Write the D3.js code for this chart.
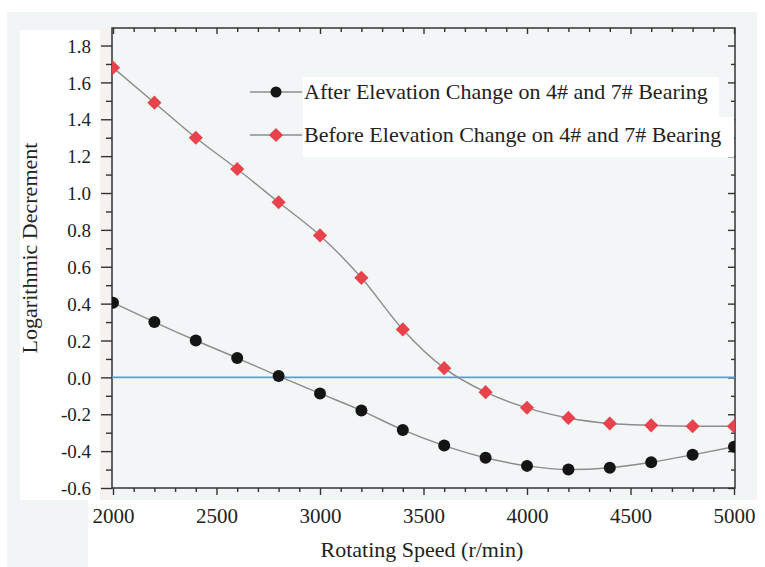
<!DOCTYPE html>
<html>
<head>
<meta charset="utf-8">
<script src="https://cdn.jsdelivr.net/npm/d3@7"></script>
<style>
  html, body { margin: 0; padding: 0; background: #ffffff; }
  svg { display: block; }
  text { font-family: "Liberation Serif", "Times New Roman", serif; fill: #222; }
</style>
</head>
<body>
<svg id="chart" width="765" height="567"></svg>
<script>
// ---- data ----
const speeds = [2000, 2200, 2400, 2600, 2800, 3000, 3200, 3400, 3600, 3800, 4000, 4200, 4400, 4600, 4800, 5000];
const afterValues = [0.405, 0.30, 0.20, 0.105, 0.007, -0.087, -0.18, -0.285, -0.37, -0.436, -0.48, -0.50, -0.49, -0.46, -0.42, -0.376];
const beforeValues = [1.68, 1.49, 1.30, 1.13, 0.95, 0.77, 0.54, 0.26, 0.05, -0.08, -0.165, -0.22, -0.25, -0.26, -0.265, -0.265];
const seriesNames = ["After Elevation Change on 4# and 7# Bearing", "Before Elevation Change on 4# and 7# Bearing"];
const xTickValues = [2000, 2500, 3000, 3500, 4000, 4500, 5000];
const yTickValues = [-0.6, -0.4, -0.2, 0.0, 0.2, 0.4, 0.6, 0.8, 1.0, 1.2, 1.4, 1.6, 1.8];
const xTitle = "Rotating Speed (r/min)";
const yTitle = "Logarithmic Decrement";

// ---- layout ----
const svg = d3.select("#chart");
const plot = { left: 112, right: 735, top: 28, bottom: 488 };
const serif = "'Liberation Serif', 'Times New Roman', serif";

// backgrounds (scanned figure look)
svg.append("rect").attr("x", 7).attr("y", 12).attr("width", 750).attr("height", 488).attr("fill", "#f2f5f5");
svg.append("rect").attr("x", 7).attr("y", 500).attr("width", 81).attr("height", 67).attr("fill", "#f2f5f5");
svg.append("rect").attr("x", 100).attr("y", 28).attr("width", 12).attr("height", 472).attr("fill", "#f6f2f0");
svg.append("rect").attr("x", 20).attr("y", 30).attr("width", 80).attr("height", 470).attr("fill", "#ffffff");
svg.append("rect").attr("x", plot.left).attr("y", plot.top).attr("width", plot.right - plot.left).attr("height", plot.bottom - plot.top).attr("fill", "#f3f6f6");

const x = d3.scaleLinear().domain([2000, 5000]).range([113, 734]);
const y = d3.scaleLinear().domain([-0.6, 1.895]).range([plot.bottom, plot.top]);

const xMinor = d3.range(2000, 5001, 100).filter(v => v % 500 !== 0);
const yMinor = d3.range(-6, 19, 1).map(v => v / 10).filter(v => Math.abs(Math.round(v * 10)) % 2 === 1);

const axisColor = "#333";
function styleAxis(g) {
  g.attr("font-family", serif);
  g.select(".domain").remove();
  g.selectAll("line").attr("stroke", axisColor).attr("stroke-width", 1.4);
}
const yFmt = v => d3.format(".1f")(v).replace("\u2212", "-");

// left axis (major + minor, outward)
const gLeft = svg.append("g").attr("transform", `translate(${plot.left},0)`);
gLeft.call(d3.axisLeft(y).tickValues(yTickValues).tickSize(11).tickFormat(yFmt));
gLeft.call(styleAxis);
gLeft.selectAll("text").attr("x", -21).attr("dy", "0.35em").attr("fill", "#222")
  .style("font-size", "19px").style("font-family", serif);
svg.append("g").attr("transform", `translate(${plot.left},0)`)
  .call(d3.axisLeft(y).tickValues(yMinor).tickSize(6).tickFormat(""))
  .call(styleAxis);

// right axis (inward)
svg.append("g").attr("transform", `translate(${plot.right},0)`)
  .call(d3.axisLeft(y).tickValues(yTickValues).tickSize(7).tickFormat(""))
  .call(styleAxis);
svg.append("g").attr("transform", `translate(${plot.right},0)`)
  .call(d3.axisLeft(y).tickValues(yMinor).tickSize(4).tickFormat(""))
  .call(styleAxis);

// bottom axis (outward)
const gBottom = svg.append("g").attr("transform", `translate(0,${plot.bottom})`);
gBottom.call(d3.axisBottom(x).tickValues(xTickValues).tickSize(7).tickFormat(d3.format("d")));
gBottom.call(styleAxis);
gBottom.selectAll("text").attr("y", 35).attr("dy", 0).attr("fill", "#222")
  .style("font-size", "21px").style("font-family", serif);
svg.append("g").attr("transform", `translate(0,${plot.bottom})`)
  .call(d3.axisBottom(x).tickValues(xMinor).tickSize(4).tickFormat(""))
  .call(styleAxis);

// top axis (inward)
svg.append("g").attr("transform", `translate(0,${plot.top})`)
  .call(d3.axisBottom(x).tickValues(xTickValues).tickSize(6).tickFormat(""))
  .call(styleAxis);
svg.append("g").attr("transform", `translate(0,${plot.top})`)
  .call(d3.axisBottom(x).tickValues(xMinor).tickSize(4).tickFormat(""))
  .call(styleAxis);

// frame
svg.append("rect").attr("x", plot.left).attr("y", plot.top)
  .attr("width", plot.right - plot.left).attr("height", plot.bottom - plot.top)
  .attr("fill", "none").attr("stroke", axisColor).attr("stroke-width", 1.5);

// clip
svg.append("clipPath").attr("id", "clip").append("rect")
  .attr("x", plot.left).attr("y", plot.top).attr("width", plot.right - plot.left).attr("height", plot.bottom - plot.top);
const gPlot = svg.append("g").attr("clip-path", "url(#clip)");

// zero line
gPlot.append("line").attr("x1", plot.left).attr("x2", plot.right)
  .attr("y1", y(0)).attr("y2", y(0)).attr("stroke", "#5f9ad2").attr("stroke-width", 1.6);

const line = d3.line().x(d => x(d[0])).y(d => y(d[1])).curve(d3.curveMonotoneX);
const afterData = speeds.map((s, i) => [s, afterValues[i]]);
const beforeData = speeds.map((s, i) => [s, beforeValues[i]]);

gPlot.append("path").datum(afterData).attr("d", line).attr("fill", "none").attr("stroke", "#8c8c8c").attr("stroke-width", 1.4);
gPlot.append("path").datum(beforeData).attr("d", line).attr("fill", "none").attr("stroke", "#8c8c8c").attr("stroke-width", 1.4);

const redColor = "#e8434c";
const diamond = d3.symbol().type(d3.symbolSquare).size(100);

gPlot.selectAll(".pb").data(beforeData).join("path")
  .attr("d", diamond())
  .attr("transform", d => `translate(${x(d[0])},${y(d[1])}) rotate(45)`)
  .attr("fill", redColor);
gPlot.selectAll(".pa").data(afterData).join("circle")
  .attr("cx", d => x(d[0])).attr("cy", d => y(d[1])).attr("r", 6)
  .attr("fill", "#141414");

// legend
const leg = svg.append("g");
leg.append("rect").attr("x", 303).attr("y", 77).attr("width", 416).attr("height", 40).attr("fill", "#ffffff");
leg.append("rect").attr("x", 303).attr("y", 117).attr("width", 431).attr("height", 40).attr("fill", "#ffffff");
const legRows = [{ name: seriesNames[0], yy: 92, type: "circle" }, { name: seriesNames[1], yy: 135, type: "diamond" }];
legRows.forEach(r => {
  leg.append("line").attr("x1", 250).attr("x2", 302).attr("y1", r.yy).attr("y2", r.yy)
    .attr("stroke", "#8c8c8c").attr("stroke-width", 1.4);
  if (r.type === "circle") {
    leg.append("circle").attr("cx", 276).attr("cy", r.yy).attr("r", 5.5).attr("fill", "#141414");
  } else {
    leg.append("path").attr("d", diamond()).attr("transform", `translate(276,${r.yy}) rotate(45)`).attr("fill", redColor);
  }
  leg.append("text").attr("x", 304).attr("y", r.yy + 7).style("font-size", "22px").text(r.name);
});

// titles
svg.append("text").attr("x", 422).attr("y", 557).attr("text-anchor", "middle")
  .style("font-size", "22px").text(xTitle);
svg.append("text").attr("transform", "translate(37,248) rotate(-90)").attr("text-anchor", "middle")
  .style("font-size", "22px").text(yTitle);
</script>
</body>
</html>
